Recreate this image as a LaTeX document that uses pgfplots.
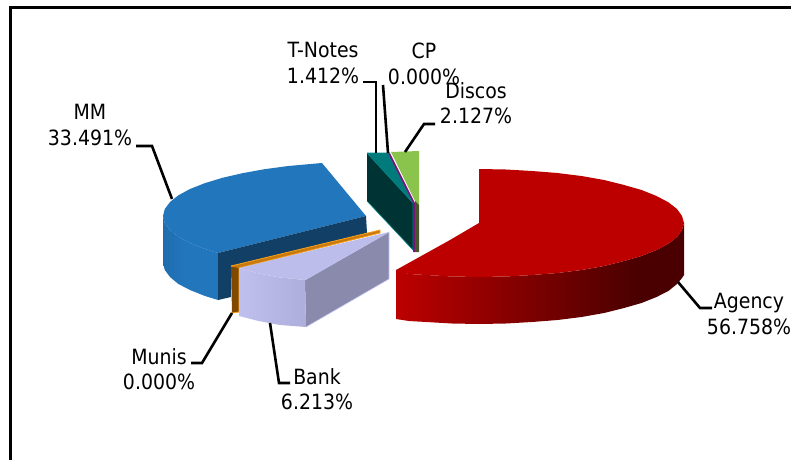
\documentclass[border=0pt]{standalone}
\usepackage{pgfplots}
\pgfplotsset{compat=1.18}
\usepackage{fontspec}
\setmainfont{DejaVu Sans Condensed}
\definecolor{rA}{HTML}{BC0000}
\definecolor{rB}{HTML}{4A0000}
\definecolor{bA}{HTML}{1F6DAE}
\definecolor{bB}{HTML}{2276BC}
\definecolor{bD}{HTML}{123F66}
\definecolor{lA}{HTML}{C0C0EE}
\definecolor{lB}{HTML}{AEAEDC}
\definecolor{lT}{HTML}{BDBDEC}
\definecolor{lS}{HTML}{8A8AAC}
\definecolor{lE}{HTML}{C8C8F5}
\definecolor{tT}{HTML}{007A7A}
\definecolor{tE}{HTML}{008C8C}
\definecolor{tD}{HTML}{003333}
\definecolor{gT}{HTML}{8BC44D}
\definecolor{gD}{HTML}{46552D}
\definecolor{pp}{HTML}{781478}
\definecolor{oD}{HTML}{7F4A00}
\definecolor{oE}{HTML}{FAA014}
\definecolor{oT}{HTML}{C87A10}
\pgfdeclarehorizontalshading{redside}{100bp}{color(0bp)=(rA); color(25bp)=(rA); color(67bp)=(rB); color(100bp)=(rB)}
\pgfdeclarehorizontalshading{blueside}{100bp}{color(0bp)=(bA); color(25bp)=(bA); color(45bp)=(bB); color(100bp)=(bB)}
\pgfdeclarehorizontalshading{lavside}{100bp}{color(0bp)=(lA); color(25bp)=(lA); color(75bp)=(lB); color(100bp)=(lB)}
\tikzset{lead/.style={black,line width=2.6pt,line join=miter},
 lab/.style={align=center,font=\fontsize{21}{25.5}\selectfont,inner sep=0pt,text=black}}
\begin{document}
\begin{tikzpicture}
\path[use as bounding box] (0,0) rectangle (791pt,460pt);
\begin{axis}[scale only axis,width=791pt,height=460pt,xmin=0,xmax=791,ymin=0,ymax=460,y dir=reverse,hide axis,clip=false,no marks]
% frame
\addplot[black,line width=3pt,sharp plot] coordinates {(10,460) (10,8) (791,8)};
% Agency
\addplot[shading=redside,draw=none] coordinates {(396,270) (409,274) (426,275) (452,276.5) (479,277) (506,276.5) (532,275) (557.5,273) (581.5,270) (604,266) (624,261) (641.6,256) (656.5,250) (668.4,243.7) (677,237) (682,230) (684,223) (684,275) (682,278) (677,284) (668.4,291) (656.5,297) (641.6,303) (624,308) (604,313) (581.5,317) (557.5,320) (532,322) (506,323.5) (479,324) (452,323.5) (426,322) (409,321) (396,319)};
\addplot[fill=rA,draw=none] coordinates {(479,169) (506,169.5) (532,171) (557.5,173) (581.5,176) (604,180) (624,185) (641.6,190) (656.5,196) (668.4,202.3) (677,209) (682,216) (684,223) (682,230) (677,237) (668.4,243.7) (656.5,250) (641.6,256) (624,261) (604,266) (581.5,270) (557.5,273) (532,275) (506,276.5) (479,277) (452,276.5) (426,275) (409,274) (396,271) (396,270) (423,255) (450,240) (479,223)};
% MM
\addplot[shading=blueside,draw=none] coordinates {(163,216) (164.8,223) (170,230) (178.4,236.7) (190,243) (205,249) (218,253) (218,300) (205,296) (190,290) (178.4,284) (170,277) (164.8,270) (163,263)};
\addplot[fill=bB,draw=none] coordinates {(322,163) (288.3,166) (264.5,169.2) (242.4,173.2) (222.5,177.8) (205,183.1) (190,189) (178.4,195.3) (170,202) (164.8,209) (163,216) (164.8,223) (170,230) (178.4,236.7) (190,243) (205,249) (218,253) (366,216)};
\addplot[fill=bD,draw=none] coordinates {(218,253) (366,216) (367,233) (231,267) (231,297) (218,300)};
% T-Notes
\addplot[fill=tT,draw=tE,line width=0.6pt] coordinates {(367,153) (389,153) (413,203)};
\addplot[fill=tD,draw=tE,line width=0.6pt] coordinates {(367,153) (413,203) (413,250) (367,201)};
% Discos
\addplot[fill=gT,draw=none] coordinates {(391,152) (419,151) (419,205) (415,201)};
\addplot[fill=gD,draw=none] coordinates {(415,201) (419,205) (419,252) (415,252)};
% CP
\addplot[pp,line width=1.6pt,sharp plot] coordinates {(389,153) (414,203) (414,252)};
% Munis
\addplot[fill=oD,draw=oE,line width=0.8pt] coordinates {(231,266) (239,267) (239,312) (232,313)};
\addplot[fill=oT,draw=oE,line width=0.8pt] coordinates {(231,266) (380,230) (380,233) (239,268)};
% Bank
\addplot[fill=lS,draw=lE,line width=0.6pt] coordinates {(305,280) (389,232) (389,279) (306,327)};
\addplot[shading=lavside,draw=none] coordinates {(239,268) (258.5,273.4) (280,277.5) (305,280) (306,327) (280,325) (258.5,321) (239,316)};
\addplot[fill=lT,draw=none] coordinates {(239,268) (389,232) (305,280) (280,277.5) (258.5,273.4)};
% leaders
\addplot[lead,sharp plot] coordinates {(363,82) (376,82) (376,153)};
\addplot[lead,sharp plot] coordinates {(383,85) (388,153)};
\addplot[lead,sharp plot] coordinates {(435,124) (424,124) (405,152)};
\addplot[lead,sharp plot] coordinates {(136,146) (152,146) (172,199)};
\addplot[lead,sharp plot] coordinates {(678,282) (700,308) (712,308)};
\addplot[lead,sharp plot] coordinates {(191,363) (202,363) (232,313)};
\addplot[lead,sharp plot] coordinates {(270,323) (279,383) (290,383)};
% labels
\node[lab] at (axis cs:323,63) {T-Notes\\1.412\%};
\node[lab] at (axis cs:424,64) {CP\\0.000\%};
\node[lab] at (axis cs:476,103) {Discos\\2.127\%};
\node[lab] at (axis cs:90,125) {MM\\33.491\%};
\node[lab] at (axis cs:749,314) {Agency\\56.758\%};
\node[lab] at (axis cs:159,369) {Munis\\0.000\%};
\node[lab] at (axis cs:317,389) {Bank\\6.213\%};
\end{axis}
\end{tikzpicture}
\end{document}
